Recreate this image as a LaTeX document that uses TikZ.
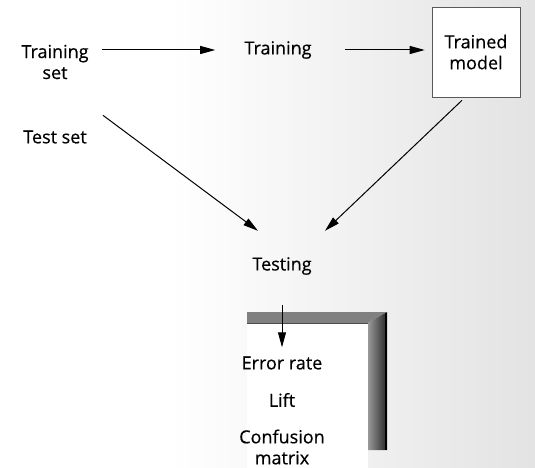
\documentclass[tikz,border=0pt]{standalone}
\usepackage{fontspec}
\setmainfont{Open Sans}
\usetikzlibrary{arrows.meta,calc}

\begin{document}
\begin{tikzpicture}[x=1pt,y=-1pt,
  lbl/.style={font=\fontsize{18}{21}\selectfont\addfontfeature{FakeBold=0.5},
              align=center, inner sep=0pt},
  arr/.style={line width=1pt, -{Triangle[length=15pt,width=8pt]}},
  modelbox/.style={lbl, draw=black!65, line width=0.6pt, fill=white,
                   minimum width=88pt, minimum height=90pt},
]
\useasboundingbox (0,0) rectangle (535,468);

% paper tone, darker toward the right
\shade[left color=white, right color=black!11] (170,0) rectangle (535,468);
% clear panel holding the results
\fill[white] (247,323) rectangle (368,468);

% bevelled bracket framing the results
\fill[black!50] (247,312) -- (387,312) -- (368,323) -- (247,323) -- cycle;
\draw[black!70, line width=0.8pt] (247,323) -- (368,323);
\shade[left color=black!40, right color=black!85] (368,323) -- (387,312) -- (387,450) -- (368,450) -- cycle;
\draw[black, line width=2pt] (386,313) -- (386,450);

% nodes
\node[lbl] (ts) at (55,62) {Training\\set};
\node[lbl] (tr) at (278,50) {Training};
\node[modelbox] (tm) at (476,52) {Trained\\model};
\node[lbl] (test) at (55,137) {Test set};
\node[lbl, minimum height=70pt, minimum width=90pt] (testing) at (282,266) {Testing};
\node[lbl] (err) at (282,363) {Error rate};
\node[lbl] (lift) at (282,400) {Lift};
\node[lbl] (conf) at (282,447) {Confusion\\matrix};

% connectors
\draw[arr, shorten <=13pt, shorten >=29pt] (ts.east |- tr.west) -- (tr.west);
\draw[arr, shorten <=33pt, shorten >=7pt] (tr.east) -- (tm.west |- tr.east);
\draw[arr] ([xshift=16pt,yshift=15pt]test.north east) -- ([xshift=-24pt]testing.north);
\draw[arr] ([xshift=-14pt,yshift=-3pt]tm.south) -- ([xshift=43pt]testing.north);
\draw[arr, shorten <=4pt, shorten >=9pt] (testing.south) -- (err.north);
\end{tikzpicture}
\end{document}
